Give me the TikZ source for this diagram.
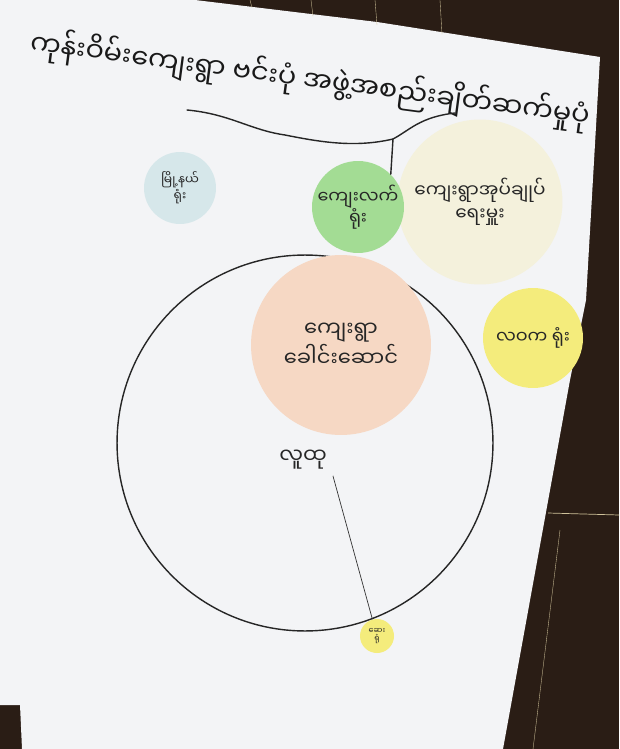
\documentclass[tikz,border=0pt]{standalone}
\usepackage{fontspec}
\newfontfamily\mmfont[Script=Myanmar]{Noto Sans Myanmar UI}
\usetikzlibrary{positioning}

\definecolor{paper}{HTML}{F3F4F6}
\definecolor{wall}{HTML}{2A1D15}
\definecolor{board}{HTML}{CFC29A}
\definecolor{peach}{HTML}{F6D8C4}
\definecolor{leaf}{HTML}{A3DC94}
\definecolor{cream}{HTML}{F4F1DC}
\definecolor{lemon}{HTML}{F4EC7C}
\definecolor{sky}{HTML}{D6E7EA}

\begin{document}
\begin{tikzpicture}[
			x=0.02cm, y=-0.02cm,
			blob/.style={circle, inner sep=0pt, align=center, text=black!85},
			ring/.style={circle, draw=black!85, thick, minimum size=7.52cm},
			link/.style={draw=black!80, thin},
			scribble/.style={draw=black!85, thick, line cap=round}
			]
			
			% Paper and wall
			\useasboundingbox (0,0) rectangle (619,749);
			\fill[wall] (0,0) rectangle (619,749);
			\fill[paper] (0,0) -- (195,0) -- (377,22) -- (600,57) -- (586,300) -- (570,380) -- (503,749) -- (22,749) -- (20,705) -- (0,705) -- cycle;
			\foreach \bx in {250,311,375,440}
				\draw[board, very thin] (\bx,0) -- (\bx+2,{0.14*(\bx-195)});
			\draw[board, thin] (548,513) -- (619,515);
			\draw[board, very thin] (560,530) -- (533,749);
			
			% Nodes
			\node[ring] (community) at (305,443) {};
			
			\node[blob, fill=cream, minimum size=3.3cm, font=\mmfont\fontsize{10.5}{13}\selectfont] (headman) at (480,202) {ကျေးရွာအုပ်ချုပ်\\ရေးမှူး};
			
			\node[blob, fill=peach, minimum size=3.6cm, font=\mmfont\fontsize{12}{15}\selectfont] (leader) at (341,345) {ကျေးရွာ\\ခေါင်းဆောင်};
			
			\node[blob, fill=leaf, minimum size=1.84cm, font=\mmfont\fontsize{10}{12}\selectfont] (rural) at (358,207) {ကျေးလက်\\ရုံး};
			
			\node[blob, fill=lemon, minimum size=2cm, font=\mmfont\fontsize{10}{12}\selectfont] (immig) at (533,338) {လဝက ရုံး};
			
			\node[blob, fill=sky, minimum size=1.44cm, font=\mmfont\fontsize{7}{9}\selectfont] (township) at (180,188) {မြို့နယ်\\ရုံး};
			
			\node[blob, fill=lemon, minimum size=0.68cm, font=\mmfont\fontsize{4.5}{5}\selectfont] (clinic) at (377,636) {ဆေး\\ရုံ};
			
			\node[font=\mmfont\fontsize{12}{14}\selectfont, text=black!85] (people) at (303,460) {လူထု};
			
			\node[rotate=-7.5, font=\mmfont\fontsize{15.5}{18}\selectfont, text=black!90] (title) at (310,80) {ကုန်းဝိမ်းကျေးရွာ ဗင်းပုံ အဖွဲ့အစည်းချိတ်ဆက်မှုပုံ};
			
			\coordinate (titlejoin) at (393,139);
			
			% Lines
			\draw[scribble] (187,110) .. controls (230,114) and (250,130) .. (285,135) .. controls (320,142) and (355,148) .. (titlejoin) .. controls (410,130) and (420,117) .. (455,113);
			\draw[scribble] (rural.north east) -- (titlejoin);
			
			\draw[link] (people.south east) -- (clinic);
			
		\end{tikzpicture}
\end{document}
